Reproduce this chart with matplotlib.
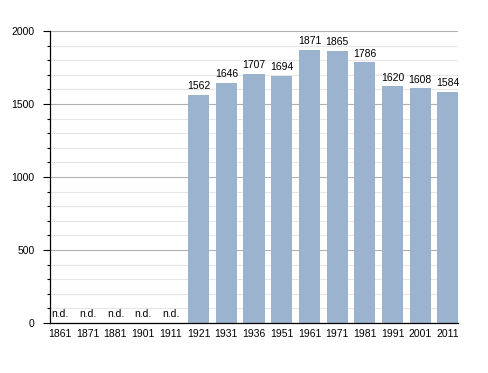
import matplotlib
matplotlib.use('Agg')
import matplotlib.pyplot as plt
from matplotlib.ticker import MultipleLocator

plt.rcParams['font.family'] = ['Liberation Sans', 'DejaVu Sans']

# data
years = ['1861', '1871', '1881', '1901', '1911', '1921', '1931', '1936',
         '1951', '1961', '1971', '1981', '1991', '2001', '2011']
population = [None, None, None, None, None, 1562, 1646, 1707,
              1694, 1871, 1865, 1786, 1620, 1608, 1584]

bar_color = '#9bb3cf'

fig = plt.figure(figsize=(4.88, 3.73), dpi=100)
ax = fig.add_axes([0.1025, 0.134, 0.836, 0.783])

x = list(range(len(years)))
vals = [v if v is not None else 0 for v in population]
ax.bar(x, vals, width=0.76, color=bar_color, zorder=3)

for xi, v in zip(x, population):
    if v is None:
        ax.text(xi, 25, 'n.d.', ha='center', va='bottom', fontsize=7.5, zorder=4)
    else:
        ax.text(xi, v + 25, str(v), ha='center', va='bottom', fontsize=7.5, zorder=4)

ax.set_xlim(-0.36, 14.36)
ax.set_ylim(0, 2000)
ax.set_xticks(x)
ax.set_xticklabels(years, fontsize=7.5)
ax.yaxis.set_major_locator(MultipleLocator(500))
ax.yaxis.set_minor_locator(MultipleLocator(100))
ax.tick_params(axis='y', which='major', length=5, width=0.8, pad=6, labelsize=7.5)
ax.tick_params(axis='y', which='minor', length=2.5, width=0.8)
ax.tick_params(axis='x', length=0, pad=4)

ax.grid(axis='y', which='major', color='#b0b0b0', linewidth=0.8, zorder=0)
ax.grid(axis='y', which='minor', color='#e6e6e6', linewidth=0.8, zorder=0)
ax.set_axisbelow(True)

for s in ['top', 'right']:
    ax.spines[s].set_visible(False)
ax.spines['left'].set_linewidth(0.9)
ax.spines['bottom'].set_linewidth(0.9)
ax.spines['bottom'].set_zorder(5)

fig.savefig('out.png', dpi=100)
